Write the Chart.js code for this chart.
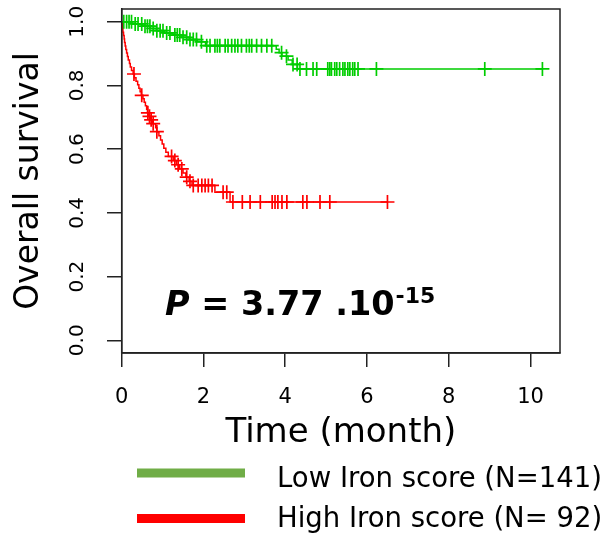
<!DOCTYPE html>
<html>
<head>
<meta charset="utf-8">
<script src="https://cdn.jsdelivr.net/npm/chart.js@4.4.1/dist/chart.umd.min.js"></script>
<style>
  html, body { margin: 0; padding: 0; background: #fff; }
  canvas { display: block; }
</style>
</head>
<body>
<canvas id="kmChart" width="613" height="538"></canvas>
<script>
const xTicks = [0, 2, 4, 6, 8, 10];
const yTicks = [0, 0.2, 0.4, 0.6, 0.8, 1.0];

// Low Iron score: event times (month), survival after each event, censored times
const lowTime = [0.25, 0.50, 0.70, 0.85, 1.05, 1.25, 1.45, 1.65, 1.85, 2.05, 3.78, 3.85, 3.92, 4.07, 4.17, 4.30];
const lowSurv = [0.993, 0.986, 0.979, 0.972, 0.965, 0.958, 0.951, 0.944, 0.937, 0.925, 0.914, 0.903, 0.892, 0.880, 0.866, 0.852];
const lowCensor = [0.05, 0.12, 0.18, 0.24, 0.33, 0.40, 0.49, 0.57, 0.63, 0.69, 0.77, 0.86, 0.94, 1.01, 1.10, 1.18,
  1.30, 1.36, 1.42, 1.50, 1.59, 1.67, 1.75, 1.83, 1.95, 2.08, 2.16, 2.28, 2.34, 2.40, 2.53, 2.60, 2.69, 2.77, 2.84,
  2.93, 3.05, 3.12, 3.18, 3.30, 3.42, 3.55, 3.67, 3.91, 4.03, 4.19, 4.29, 4.36, 4.52, 4.68, 4.77, 5.04, 5.09, 5.13,
  5.21, 5.26, 5.33, 5.41, 5.46, 5.53, 5.58, 5.65, 5.70, 5.78, 6.23, 8.88, 10.29];
const lowEnd = 10.29;

// High Iron score
const highTime = [0.01, 0.02, 0.03, 0.045, 0.06, 0.07, 0.085, 0.10, 0.12, 0.14, 0.16, 0.19, 0.21, 0.24, 0.28,
  0.31, 0.35, 0.39, 0.42, 0.45, 0.48, 0.52, 0.55, 0.58, 0.61, 0.63, 0.66, 0.70, 0.76, 0.83, 0.86,
  0.91, 0.95, 0.99, 1.03, 1.08, 1.14, 1.26, 1.34, 1.42, 1.50, 1.57, 1.65, 1.72, 2.28, 2.65];
const highSurv = [0.989, 0.978, 0.967, 0.957, 0.946, 0.935, 0.924, 0.913, 0.902, 0.891, 0.880, 0.869, 0.858, 0.847, 0.836,
  0.824, 0.813, 0.802, 0.791, 0.780, 0.769, 0.758, 0.747, 0.736, 0.725, 0.714, 0.703, 0.692, 0.680, 0.667, 0.655,
  0.642, 0.629, 0.616, 0.603, 0.590, 0.577, 0.564, 0.551, 0.538, 0.525, 0.512, 0.499, 0.486, 0.465, 0.434];
const highCensor = [0.30, 0.49, 0.64, 0.68, 0.72, 0.77, 0.86, 1.22, 1.30, 1.38, 1.47, 1.59, 1.67, 1.75, 1.87, 1.96,
  2.04, 2.12, 2.21, 2.48, 2.57, 2.72, 2.95, 3.14, 3.39, 3.68, 3.75, 3.82, 3.92, 4.04, 4.43, 4.53, 4.85, 5.09, 6.50];
const highEnd = 6.50;

const FONT = '"DejaVu Sans", sans-serif';

function curve(times, surv, end) {
  const pts = [{x: 0, y: 1}];
  times.forEach((t, i) => pts.push({x: t, y: surv[i]}));
  pts.push({x: end, y: surv[surv.length - 1]});
  return pts;
}

function survAt(times, surv, t) {
  let s = 1;
  for (let i = 0; i < times.length; i++) {
    if (times[i] <= t) s = surv[i];
  }
  return s;
}

function marks(censor, times, surv) {
  return censor.map(t => ({x: t, y: survAt(times, surv, t)}));
}

// box, p-value and legend
const extras = {
  id: 'extras',
  afterDraw(chart) {
    const ctx = chart.ctx;
    const a = chart.chartArea;
    ctx.save();
    ctx.strokeStyle = '#222';
    ctx.lineWidth = 1.5;
    ctx.strokeRect(a.left, a.top, a.right - a.left, a.bottom - a.top);

    ctx.fillStyle = '#000';
    ctx.textBaseline = 'alphabetic';
    ctx.font = 'italic bold 33.5px ' + FONT;
    ctx.fillText('P', 165, 315);
    let x = 165 + ctx.measureText('P').width;
    ctx.font = 'bold 33.5px ' + FONT;
    ctx.fillText(' = 3.77 .10', x, 315);
    x += ctx.measureText(' = 3.77 .10').width + 1;
    ctx.font = 'bold 22px ' + FONT;
    ctx.fillText('-15', x, 303);

    ctx.fillStyle = '#70ad47';
    ctx.fillRect(137, 468.5, 108, 9);
    ctx.fillStyle = '#ff0000';
    ctx.fillRect(137, 514, 108, 9);
    ctx.fillStyle = '#000';
    ctx.font = '27.5px ' + FONT;
    ctx.fillText('Low Iron score (N=141)', 277, 487);
    ctx.fillText('High Iron score (N= 92)', 277, 527);
    ctx.restore();
  }
};

new Chart(document.getElementById('kmChart'), {
  type: 'scatter',
  data: {
    datasets: [
      {
        label: 'Low Iron score (N=141)',
        data: curve(lowTime, lowSurv, lowEnd),
        showLine: true,
        stepped: true,
        borderColor: '#00cd00',
        borderWidth: 1.5,
        pointRadius: 0
      },
      {
        data: marks(lowCensor, lowTime, lowSurv),
        pointStyle: 'cross',
        pointRadius: 7,
        pointBorderWidth: 1.7,
        borderColor: '#00cd00',
        showLine: false
      },
      {
        label: 'High Iron score (N= 92)',
        data: curve(highTime, highSurv, highEnd),
        showLine: true,
        stepped: true,
        borderColor: '#ff0000',
        borderWidth: 1.5,
        pointRadius: 0
      },
      {
        data: marks(highCensor, highTime, highSurv),
        pointStyle: 'cross',
        pointRadius: 7,
        pointBorderWidth: 1.7,
        borderColor: '#ff0000',
        showLine: false
      }
    ]
  },
  options: {
    responsive: false,
    animation: false,
    events: [],
    layout: { padding: { top: 9, right: 53, left: 0, bottom: 0 } },
    plugins: { legend: { display: false }, tooltip: { enabled: false } },
    scales: {
      x: {
        type: 'linear',
        min: 0,
        max: 10.72,
        afterBuildTicks: s => { s.ticks = xTicks.map(v => ({value: v})); },
        afterFit: s => { s.height = 185; s.paddingLeft = 0; s.paddingRight = 0; },
        ticks: { font: { family: FONT, size: 21 }, color: '#000', padding: 18, maxRotation: 0, autoSkip: false },
        grid: { drawOnChartArea: false, drawTicks: true, tickLength: 14, color: '#222', lineWidth: 1.5 },
        border: { display: true, color: '#222', width: 1.5 },
        title: { display: true, text: 'Time (month)', color: '#000', font: { family: FONT, size: 34 }, padding: { top: 0, bottom: 84 } }
      },
      y: {
        type: 'linear',
        min: -0.04,
        max: 1.04,
        afterBuildTicks: s => { s.ticks = yTicks.map(v => ({value: v})); },
        afterFit: s => { s.width = 121.7; s.paddingTop = 0; s.paddingBottom = 0; },
        ticks: {
          font: { family: FONT, size: 20 }, color: '#000', padding: 13,
          minRotation: 90, maxRotation: 90, crossAlign: 'center', autoSkip: false,
          callback: v => v.toFixed(1)
        },
        grid: { drawOnChartArea: false, drawTicks: true, tickLength: 14.7, color: '#222', lineWidth: 1.5 },
        border: { display: true, color: '#222', width: 1.5 },
        title: { display: true, text: 'Overall survival', color: '#000', font: { family: FONT, size: 33 }, padding: { top: 10, bottom: 0 } }
      }
    }
  },
  plugins: [extras]
});
</script>
</body>
</html>
